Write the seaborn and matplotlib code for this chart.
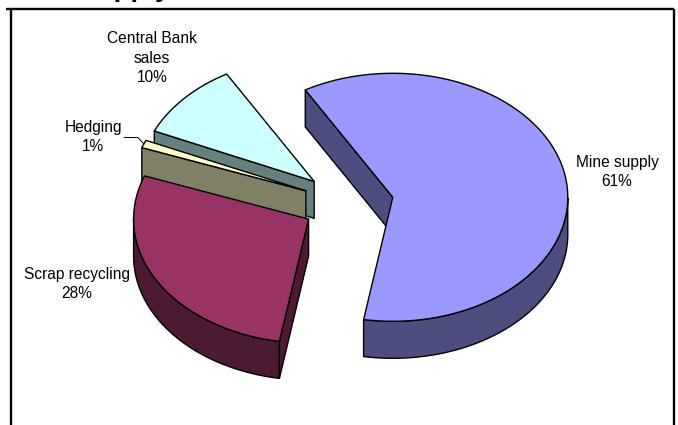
import numpy as np
import pandas as pd
import matplotlib
matplotlib.use('Agg')
import matplotlib.pyplot as plt
import seaborn as sns
from matplotlib.patches import Polygon

# data
labels = ['Mine supply', 'Scrap recycling', 'Hedging', 'Central Bank sales']
shares = [61, 28, 1, 10]
label_text = ['Mine supply\n61%', 'Scrap recycling\n28%', 'Hedging\n1%', 'Central Bank\nsales\n10%']
top_colors = ['#9999FF', '#993366', '#FFFFCC', '#CCFFFF']
side_colors = ['#4D4D80', '#4D1A33', '#808066', '#668080']

df = pd.DataFrame({'label': labels, 'share': shares, 'text': label_text,
                   'top': top_colors, 'side': side_colors})

# layout (pixels)
W, H = 678, 425
cx, cy = 348, 203        # pie centre
rx, ry = 175, 124        # ellipse radii of top face
depth = 37               # thickness
explode = 0.26
start = 120              # first slice starts here, goes clockwise
label_pos = [(617, 172), (77, 284), (93, 137), (152, 58)]


def ept(x0, y0, ang, r=1.0):
    a = np.radians(ang)
    return x0 + r * rx * np.cos(a), y0 - r * ry * np.sin(a)


def draw_slice(ax, lo, hi, top, side):
    mid = (lo + hi) / 2
    ox, oy = ept(0, 0, mid, explode)
    x0, y0 = cx + ox, cy + oy
    t = np.linspace(lo, hi, 300)
    xs, ys = ept(x0, y0, t)
    kw = dict(edgecolor='black', linewidth=1.0, joinstyle='round')
    # outer wall (front half only)
    front = np.sin(np.radians(t)) <= 0
    if front.sum() > 1:
        fx, fy = xs[front], ys[front]
        pts = list(zip(fx, fy)) + list(zip(fx[::-1], fy[::-1] + depth))
        ax.add_patch(Polygon(pts, closed=True, facecolor=side, **kw))
    # radial walls
    for ang, nrm in [(lo, lo - 90), (hi, hi + 90)]:
        if np.sin(np.radians(nrm)) < 0:
            ex, ey = ept(x0, y0, ang)
            pts = [(x0, y0), (ex, ey), (ex, ey + depth), (x0, y0 + depth)]
            ax.add_patch(Polygon(pts, closed=True, facecolor=side, **kw))
    # top face
    pts = [(x0, y0)] + list(zip(xs, ys))
    ax.add_patch(Polygon(pts, closed=True, facecolor=top, **kw))
    return x0, y0


sns.set_theme(style='white')
plt.rcParams['font.family'] = ['Liberation Sans', 'DejaVu Sans']

fig = plt.figure(figsize=(W / 100, H / 100), dpi=100)
ax = fig.add_axes([0, 0, 1, 1])
ax.set_xlim(0, W)
ax.set_ylim(H, 0)
ax.axis('off')

# slice angles
spans = df['share'] / df['share'].sum() * 360
his = start - np.concatenate([[0], np.cumsum(spans)[:-1]])
los = his - spans.values
df['lo'], df['hi'] = los, his
df['apex_y'] = [ept(cx, cy, (l + h) / 2, explode)[1] for l, h in zip(los, his)]

hedge_mid = None
for i, row in df.sort_values('apex_y').iterrows():
    x0, y0 = draw_slice(ax, row['lo'], row['hi'], row['top'], row['side'])
    if row['label'] == 'Hedging':
        hedge_mid = ept(x0, y0, (row['lo'] + row['hi']) / 2)

for (x, y), txt in zip(label_pos, df['text']):
    ax.text(x, y, txt, ha='center', va='center', fontsize=11.2,
            color='black', linespacing=1.4)

# leader line for Hedging
ax.plot([124, 138, hedge_mid[0]], [137.5, 137.5, hedge_mid[1]], color='black', lw=0.7)

# title sits above the visible area, only its descenders show
ax.text(78, -4, 'Supply', fontsize=20, fontweight='bold', va='baseline',
        ha='left', color='black', clip_on=False)
ax.plot([6, 674], [9, 9], color='black', lw=1.7, solid_capstyle='butt')
ax.plot([11, 11], [9, H], color='black', lw=1.7, solid_capstyle='butt')
ax.plot([674, 674], [9, H], color='black', lw=1.7, solid_capstyle='butt')

fig.savefig('out.png', dpi=100)
